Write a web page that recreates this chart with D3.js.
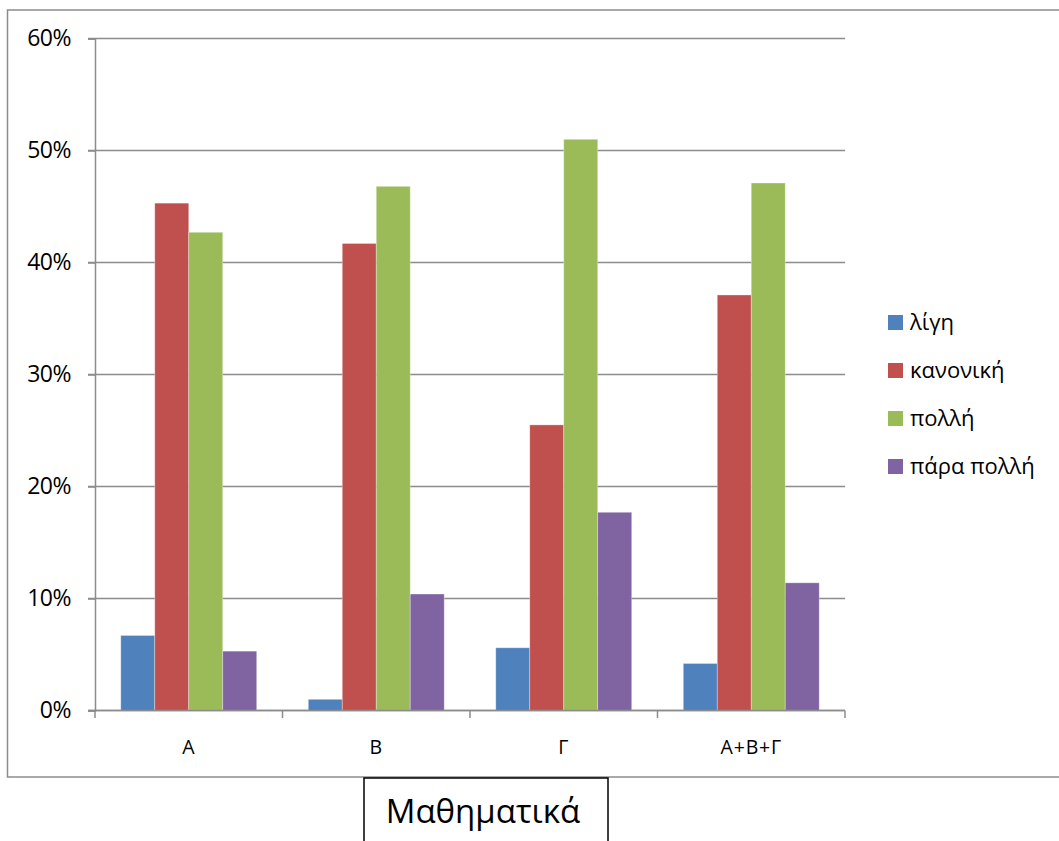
<!DOCTYPE html>
<html><head><meta charset="utf-8">
<script src="https://cdn.jsdelivr.net/npm/d3@7"></script>
<style>body{margin:0;background:#fff;} svg{display:block;font-family:"Open Sans","Noto Sans",sans-serif;}</style>
</head><body>
<script>
const categories = ["A", "B", "Γ", "A+B+Γ"];
const seriesNames = ["λίγη", "κανονική", "πολλή", "πάρα πολλή"];
const ligi = [6.7, 1.0, 5.6, 4.2];
const kanoniki = [45.3, 41.7, 25.5, 37.1];
const polli = [42.7, 46.8, 51.0, 47.1];
const paraPolli = [5.3, 10.4, 17.7, 11.4];
const yTicks = [0, 10, 20, 30, 40, 50, 60];
const colors = ["#4F81BD", "#C0504D", "#9BBB59", "#8064A2"];
const chartTitle = "Μαθηματικά";
const seriesValues = [ligi, kanoniki, polli, paraPolli];

const W = 1059, H = 841;
const svg = d3.select("body").append("svg").attr("width", W).attr("height", H);

// outer border
svg.append("rect").attr("x", 7.5).attr("y", 10).attr("width", 1100).attr("height", 767)
  .attr("fill", "#fff").attr("stroke", "#8c8c8c").attr("stroke-width", 1.5);

const x0 = d3.scaleBand().domain(categories).range([95, 845]).paddingInner(0.275).paddingOuter(0.1375);
const x1 = d3.scaleBand().domain(seriesNames).range([0, x0.bandwidth()]);
const y = d3.scaleLinear().domain([0, 60]).range([710.5, 38.5]);

const grid = svg.append("g");
grid.selectAll("line").data(yTicks).join("line")
  .attr("x1", 88).attr("x2", 845)
  .attr("y1", d => y(d)).attr("y2", d => y(d))
  .attr("stroke", "#8c8c8c").attr("stroke-width", 1.5);

// y axis
const yAxis = svg.append("g").attr("transform", "translate(95,0)")
  .call(d3.axisLeft(y).tickValues(yTicks).tickFormat(d => d + "%").tickSize(7).tickPadding(17));
yAxis.select(".domain").attr("stroke", "#8c8c8c").attr("stroke-width", 1.5);
yAxis.selectAll(".tick line").attr("stroke", "#8c8c8c").attr("stroke-width", 1.5);
yAxis.selectAll("text").attr("font-size", 23).attr("fill", "#000").attr("font-family", "Open Sans")
  .attr("letter-spacing", -0.5);

// x axis boundaries ticks
const bounds = d3.range(categories.length + 1).map(i => 95 + i * (750 / categories.length));
svg.append("g").selectAll("line").data(bounds).join("line")
  .attr("x1", d => d).attr("x2", d => d).attr("y1", 710.5).attr("y2", 718)
  .attr("stroke", "#8c8c8c").attr("stroke-width", 1.5);

// bars
const groups = svg.append("g").selectAll("g").data(categories).join("g")
  .attr("transform", d => `translate(${x0(d)},0)`);
groups.selectAll("rect").data((c, ci) => seriesNames.map((s, si) => ({s, si, v: seriesValues[si][ci]})))
  .join("rect")
  .attr("x", d => x1(d.s)).attr("width", x1.bandwidth())
  .attr("y", d => y(d.v)).attr("height", d => y(0) - y(d.v))
  .attr("fill", d => colors[d.si]).attr("stroke", "#fff").attr("stroke-opacity", 0.4).attr("stroke-width", 0.8);

// x axis line
svg.append("line").attr("x1", 88).attr("x2", 845).attr("y1", 710.5).attr("y2", 710.5)
  .attr("stroke", "#8c8c8c").attr("stroke-width", 1.5);

// category labels
svg.append("g").selectAll("text").data(categories).join("text")
  .attr("x", d => x0(d) + x0.bandwidth() / 2).attr("y", 754)
  .attr("text-anchor", "middle").attr("font-size", 19.5).attr("letter-spacing", 0.8).text(d => d);

// legend
const leg = svg.append("g").selectAll("g").data(seriesNames).join("g")
  .attr("transform", (d, i) => `translate(888,${322 + i * 48})`);
leg.append("rect").attr("x", 0).attr("y", -7).attr("width", 15).attr("height", 15)
  .attr("fill", (d, i) => colors[i]);
leg.append("text").attr("x", 22).attr("y", 8).attr("font-size", 22).text(d => d);

// title box
svg.append("rect").attr("x", 364).attr("y", 778).attr("width", 244).attr("height", 80)
  .attr("fill", "#fff").attr("stroke", "#000").attr("stroke-width", 1.5);
svg.append("text").attr("x", 483).attr("y", 823).attr("text-anchor", "middle")
  .attr("font-size", 33).text(chartTitle);
</script>
</body></html>
